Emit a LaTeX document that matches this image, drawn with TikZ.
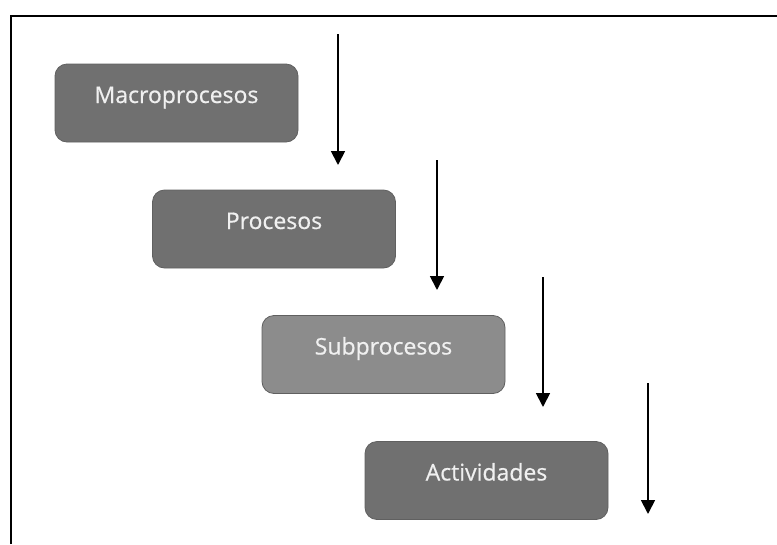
\documentclass[tikz,border=0pt]{standalone}
\usepackage{fontspec}
\setmainfont{Open Sans}
\newfontfamily\cajafont{Open Sans}[FakeBold=0.6]
\usetikzlibrary{arrows.meta}
\definecolor{cajaoscura}{RGB}{112,112,112}
\definecolor{cajaclara}{RGB}{140,140,140}
\definecolor{bordecaja}{RGB}{96,96,96}

\begin{document}
\begin{tikzpicture}[x=1pt,y=-1pt,
		nivel/.style={draw=bordecaja,line width=0.8pt,fill=#1,rounded corners=12pt,
			minimum width=243pt,inner xsep=0pt,inner ysep=0pt,
			text height=39pt,text depth=39pt,
			text=white!94!black,font=\cajafont\fontsize{23}{27}\selectfont},
		baja/.style={-{Triangle[width=14pt,length=14pt]},line width=1.8pt}]
		
		% we fix the size of the page
		\useasboundingbox (0,0) rectangle (777,544);
		
		% we draw the frame (only top and left side are visible)
		\draw[line width=1.6pt] (11,544) -- (11,16) -- (777,16);
		
		% we draw the four levels
		\node[nivel=cajaoscura] (macro) at (176.5,103) {Macroprocesos};
		\node[nivel=cajaoscura] (proc) at (274,229) {Procesos};
		\node[nivel=cajaclara] (subproc) at (383.5,354.5) {Subprocesos};
		\node[nivel=cajaoscura] (activ) at (486.5,480.5) {Actividades};
		
		% start and end points of the arrows
		\foreach \nombre/\x/\ya/\yb in {macro/338/34/165,proc/437/160/290,
			subproc/543/277/407,activ/648/383/514}
		{
			\coordinate (\nombre-ini) at (\x,\ya);
			\coordinate (\nombre-fin) at (\x,\yb);
		}
		
		% we draw the arrows going down
		\foreach \nombre in {macro,proc,subproc,activ}
		\draw[baja] (\nombre-ini) -- (\nombre-fin);
		
	\end{tikzpicture}
\end{document}
